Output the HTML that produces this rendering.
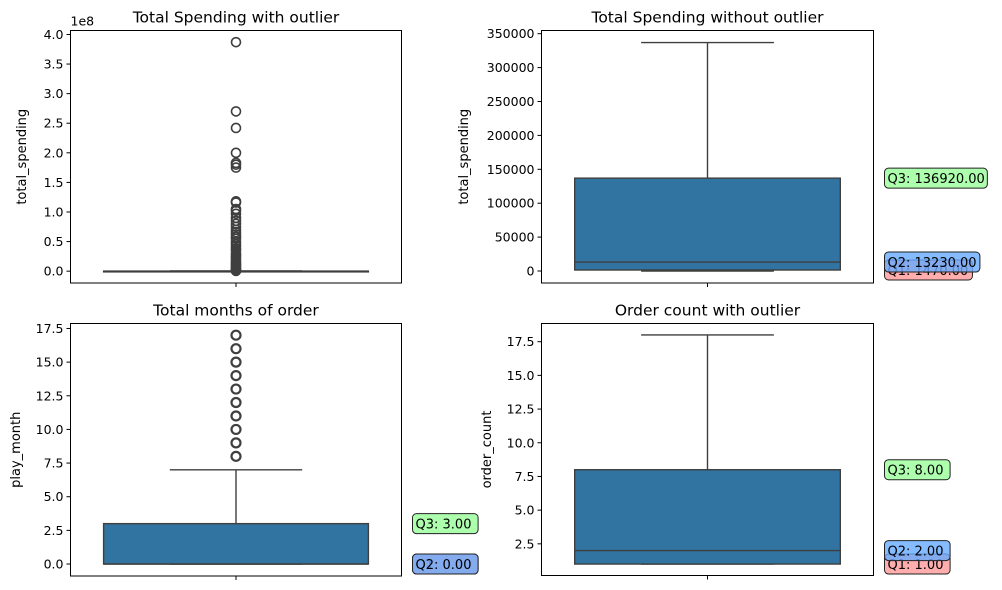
<!DOCTYPE html>
<html><head><meta charset="utf-8"><style>
body{margin:0;background:#fff;}
svg{display:block;font-family:"DejaVu Sans","Liberation Sans",sans-serif;}
</style></head><body>
<svg id="fig" width="1002" height="590" viewBox="0 0 1002 590"></svg>
<script>
// ---- data ----
const panelTitles = ["Total Spending with outlier","Total Spending without outlier","Total months of order","Order count with outlier"];
const yLabels = ["total_spending","total_spending","play_month","order_count"];
// box stats: [min, q1, median, q3, max]
const spendWith = [0, 1470, 13230, 136920, 337000];
const spendWithout = [0, 1470, 13230, 136920, 337000];
const playMonth = [0, 0, 0, 3, 7];
const orderCount = [1, 1, 2, 8, 18];
const spendOutliers = [3.87e8,2.7e8,2.42e8,2.0e8,1.83e8,1.8e8,1.75e8,1.18e8,1.16e8,1.05e8,1.02e8,0.97e8,0.9e8,0.85e8,0.8e8,0.75e8,0.7e8,0.66e8,0.62e8,0.58e8,0.55e8,0.5e8,0.46e8,0.42e8,0.38e8,0.35e8,0.3e8,0.27e8,0.24e8,0.21e8,0.18e8,0.15e8,0.13e8,0.11e8,0.09e8,0.07e8,0.05e8,0.035e8,0.02e8,0.01e8,0.005e8];
const playOutliers = [8,9,10,11,12,13,14,15,16,17];
const orderOutliers = [];
const ticks0 = [0,0.5,1.0,1.5,2.0,2.5,3.0,3.5,4.0];
const ticks1 = [0,50000,100000,150000,200000,250000,300000,350000];
const ticks2 = [0,2.5,5.0,7.5,10.0,12.5,15.0,17.5];
const ticks3 = [2.5,5.0,7.5,10.0,12.5,15.0,17.5];
const annot1 = [["Q1: 1470.00",1470,"#ff9999"],["Q2: 13230.00",13230,"#66aaff"],["Q3: 136920.00",136920,"#99ff99"]];
const annot2 = [["Q1: 0.00",0,"#ff9999"],["Q2: 0.00",0,"#66aaff"],["Q3: 3.00",3,"#99ff99"]];
const annot3 = [["Q1: 1.00",1,"#ff9999"],["Q2: 2.00",2,"#66aaff"],["Q3: 8.00",8,"#99ff99"]];

const NS="http://www.w3.org/2000/svg";
const svg=document.getElementById('fig');
function mk(tag,attrs,parent){const e=document.createElementNS(NS,tag);for(const k in attrs)e.setAttribute(k,attrs[k]);(parent||svg).appendChild(e);return e;}

const panels=[
 {x0:70.5,x1:401.5,y0:30.5,y1:283,lo:-0.2e8,hi:4.067e8,stats:spendWith,out:spendOutliers,ticks:ticks0,scale:1e8,fmt:v=>v.toFixed(1),annot:[],ylx:26,offset:true},
 {x0:541.5,x1:873.5,y0:30.5,y1:283,lo:-17700,hi:354720,stats:spendWithout,out:[],ticks:ticks1,scale:1,fmt:v=>String(v),annot:annot1,ylx:468},
 {x0:70.5,x1:401.5,y0:323.5,y1:576,lo:-0.89,hi:17.87,stats:playMonth,out:playOutliers,ticks:ticks2,scale:1,fmt:v=>v.toFixed(1),annot:annot2,ylx:20},
 {x0:541.5,x1:873.5,y0:323.5,y1:575.5,lo:0.15,hi:18.85,stats:orderCount,out:orderOutliers,ticks:ticks3,scale:1,fmt:v=>v.toFixed(1),annot:annot3,ylx:491}
];

panels.forEach((p,i)=>{
 const g=mk('g',{});
 
 
 const Y=v=>p.y1-(v-p.lo)/(p.hi-p.lo)*(p.y1-p.y0);
 const w=p.x1-p.x0, cx=p.x0+w/2;
 const bx0=p.x0+w*0.1, bx1=p.x1-w*0.1, cw=w*0.2;
 const s=p.stats;
 const wl=mk('path',{d:`M${cx},${Y(s[3])}V${Y(s[4])}M${cx-cw},${Y(s[4])}H${cx+cw}M${cx},${Y(s[1])}V${Y(s[0])}M${cx-cw},${Y(s[0])}H${cx+cw}`,stroke:'#3f3f3f','stroke-width':1.4,fill:'none'},g);
 
 
 const bt=Y(s[3]), bb=Y(s[1]);
 const box=mk('rect',{x:bx0,y:bt,width:bx1-bx0,height:Math.max(bb-bt,0.8),fill:'#3274a1',stroke:'#3f3f3f','stroke-width':1.4},g);
 
 
 const med=mk('line',{x1:bx0,x2:bx1,y1:Y(s[2]),y2:Y(s[2]),stroke:'#3f3f3f','stroke-width':1.4},g);
 
 
 p.out.forEach(v=>{
  const c=mk('circle',{cx:cx,cy:Y(v),r:4.5,fill:'none',stroke:'#3f3f3f','stroke-width':i===2?2.2:1.6},g);
  
  
 });
 if(i===0){
  const cl=mk('rect',{x:cx-5,y:Y(0.45e8),width:10,height:Y(0)-Y(0.45e8)+5,rx:5,fill:'#3f3f3f'},g);
  
  
 }
 const fr=mk('rect',{x:p.x0,y:p.y0,width:w,height:p.y1-p.y0,fill:'none',stroke:'#000','stroke-width':1},g);
 
 
 p.ticks.forEach(t=>{
  const y=Y(t*p.scale);
  mk('line',{x1:p.x0-4,x2:p.x0,y1:y,y2:y,stroke:'#000','stroke-width':1},g);
  const tx=mk('text',{x:p.x0-7,y:y+4.5,'text-anchor':'end','font-size':12.5,fill:'#000'},g);
  tx.textContent=p.fmt(t);
  
  
 });
 mk('line',{x1:cx,x2:cx,y1:p.y1,y2:p.y1+4,stroke:'#000','stroke-width':1},g);
 if(p.offset){const o=mk('text',{x:p.x0,y:p.y0-5,'font-size':12.5,fill:'#000'},g);o.textContent='1e8';}
 const t=mk('text',{x:cx,y:p.y0-8,'text-anchor':'middle','font-size':15.5,fill:'#000'},g);
 t.textContent=panelTitles[i];
 
 
 const ymid=(p.y0+p.y1)/2;
 const yl=mk('text',{x:p.ylx,y:ymid,'text-anchor':'middle','font-size':13,fill:'#000',transform:`rotate(-90 ${p.ylx} ${ymid})`},g);
 yl.textContent=yLabels[i];
 
 
 p.annot.forEach(a=>{
  const y=Y(a[1]);
  const tw=a[0].length*7.45;
  const ax=p.x1+11;
  const r=mk('rect',{x:ax,y:y-10,width:tw+6,height:20,rx:4,fill:a[2],'fill-opacity':0.8,stroke:'#222','stroke-width':1},g);
  
  
  const at=mk('text',{x:ax+3,y:y+5,'font-size':13,fill:'#000'},g);
  at.textContent=a[0];
  
  
 });
});
</script>
</body></html>
